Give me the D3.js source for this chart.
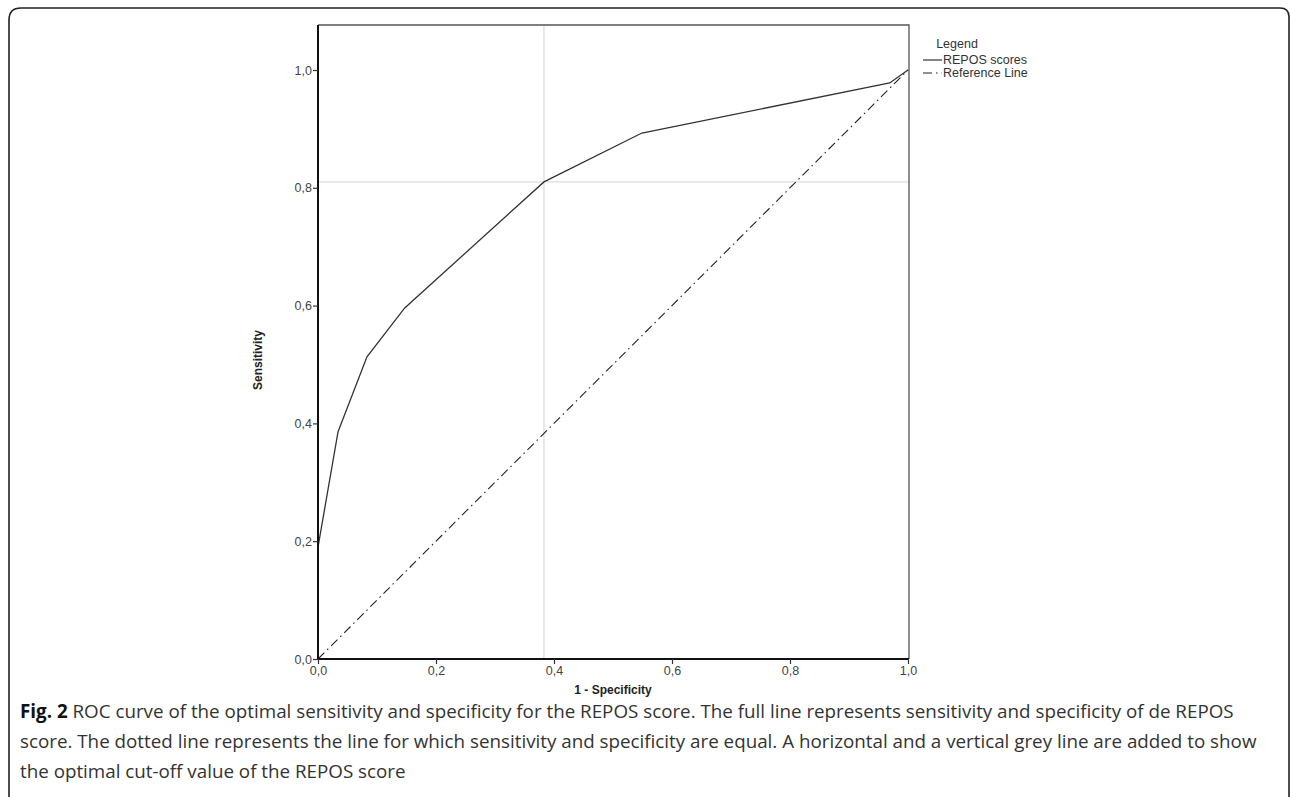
<!DOCTYPE html>
<html><head><meta charset="utf-8">
<script src="https://cdn.jsdelivr.net/npm/d3@7"></script>
<style>body{margin:0;background:#fff;}svg{display:block;}</style>
</head><body>
<script>
// ROC curve points (1 - specificity, sensitivity)
const fpr = [0, 0, 0.034, 0.083, 0.147, 0.383, 0.549, 0.969, 1.0];
const tpr = [0, 0.19, 0.386, 0.513, 0.596, 0.81, 0.893, 0.978, 1.0];
const refX = [0, 1];
const refY = [0, 1];
const cutoffX = 0.383, cutoffY = 0.81;
const tickVals = [0, 0.2, 0.4, 0.6, 0.8, 1.0];
const tickLabels = ["0,0", "0,2", "0,4", "0,6", "0,8", "1,0"];
const legendItems = ["REPOS scores", "Reference Line"];
const captionLines = [
  ["Fig. 2", " ROC curve of the optimal sensitivity and specificity for the REPOS score. The full line represents sensitivity and specificity of de REPOS"],
  ["", "score. The dotted line represents the line for which sensitivity and specificity are equal. A horizontal and a vertical grey line are added to show"],
  ["", "the optimal cut-off value of the REPOS score"]
];

const W = 1290, H = 797;
const svg = d3.select("body").append("svg").attr("width", W).attr("height", H);

// frame
svg.append("path")
  .attr("d", "M9,800 L9,20 Q9,8 21,8 L1280,8 Q1289,8 1289,17 L1289,800")
  .attr("fill", "none").attr("stroke", "#222").attr("stroke-width", 1.6);

const x = d3.scaleLinear().domain([0, 1]).range([318, 908]);
const y = d3.scaleLinear().domain([0, 1]).range([659, 70]);
const plotTop = 25, plotRight = 909;

// cutoff grey lines
svg.append("line").attr("x1", x(cutoffX)).attr("x2", x(cutoffX)).attr("y1", plotTop).attr("y2", y(0))
  .attr("stroke", "#d4d4d4").attr("stroke-width", 1);
svg.append("line").attr("x1", x(0)).attr("x2", plotRight).attr("y1", y(cutoffY)).attr("y2", y(cutoffY))
  .attr("stroke", "#d4d4d4").attr("stroke-width", 1);

// plot box top/right
svg.append("path").attr("d", `M${x(0)},${plotTop} L${plotRight},${plotTop} L${plotRight},${y(0)}`)
  .attr("fill", "none").attr("stroke", "#555").attr("stroke-width", 1.3);

// reference line
const line = d3.line().x(d => x(d[0])).y(d => y(d[1]));
svg.append("path").datum(refX.map((v, i) => [v, refY[i]])).attr("d", line)
  .attr("fill", "none").attr("stroke", "#222").attr("stroke-width", 1.1)
  .attr("stroke-dasharray", "9,4,1.5,4");

// ROC curve
svg.append("path").datum(fpr.map((v, i) => [v, tpr[i]])).attr("d", line)
  .attr("fill", "none").attr("stroke", "#333").attr("stroke-width", 1.3);

// axes
const fmt = (d) => tickLabels[tickVals.indexOf(d)];
const xAxis = d3.axisBottom(x).tickValues(tickVals).tickFormat(fmt).tickSize(5).tickSizeOuter(0);
const yAxis = d3.axisLeft(y).tickValues(tickVals).tickFormat(fmt).tickSize(5).tickSizeOuter(0);
const gx = svg.append("g").attr("transform", `translate(0,${y(0)})`).call(xAxis);
const gy = svg.append("g").attr("transform", `translate(${x(0)},0)`).call(yAxis);
gx.select(".domain").attr("d", `M${x(0)},0H${plotRight}`);
gy.select(".domain").attr("d", `M0,${y(0)}V${plotTop}`);
[gx, gy].forEach(g => {
  g.select(".domain").attr("stroke", "#111").attr("stroke-width", 2);
  g.selectAll(".tick line").attr("stroke", "#333").attr("stroke-width", 1.2);
  g.selectAll(".tick text").attr("font-family", "Liberation Sans, Arial, sans-serif")
    .attr("font-size", 12.5).attr("fill", "#444");
});
gx.selectAll(".tick text").attr("dy", "0.9em").attr("y", 5);
gy.selectAll(".tick text").attr("x", -6);

// axis titles
svg.append("text").attr("x", x(0.5)).attr("y", 694).attr("text-anchor", "middle")
  .attr("font-family", "Liberation Sans, Arial, sans-serif").attr("font-size", 12).attr("font-weight", "bold")
  .attr("fill", "#222").text("1 - Specificity");
svg.append("text").attr("transform", `translate(262,${(plotTop + y(0)) / 2 + 18}) rotate(-90)`)
  .attr("text-anchor", "middle")
  .attr("font-family", "Liberation Sans, Arial, sans-serif").attr("font-size", 12).attr("font-weight", "bold")
  .attr("fill", "#222").text("Sensitivity");

// legend
const lg = svg.append("g").attr("font-family", "Liberation Sans, Arial, sans-serif").attr("font-size", 12.5).attr("fill", "#333");
lg.append("text").attr("x", 957).attr("y", 48).attr("text-anchor", "middle").text("Legend");
legendItems.forEach((t, i) => {
  const yy = 60 + i * 13;
  lg.append("line").attr("x1", 923).attr("x2", 942).attr("y1", yy).attr("y2", yy)
    .attr("stroke", "#222").attr("stroke-width", 1.1)
    .attr("stroke-dasharray", i === 1 ? "9,4,1.5,4" : null);
  lg.append("text").attr("x", 943).attr("y", yy + 4).text(t);
});

// caption
captionLines.forEach((l, i) => {
  const t = svg.append("text").attr("x", 20).attr("y", 718 + i * 30)
    .attr("font-family", "Open Sans, sans-serif").attr("font-size", 18.8).attr("fill", "#333");
  if (l[0]) t.append("tspan").attr("font-weight", "bold").attr("fill", "#111").text(l[0]);
  t.append("tspan").text(l[1]);
});
</script>
</body></html>
